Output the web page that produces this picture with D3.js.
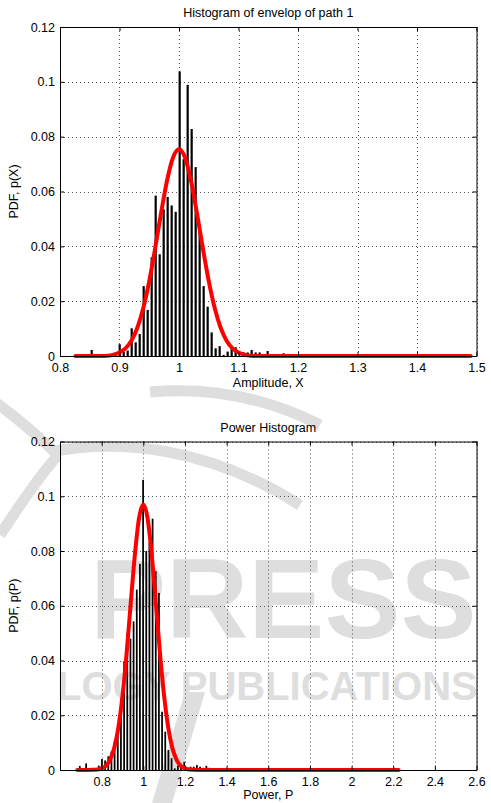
<!DOCTYPE html>
<html>
<meta charset="utf-8">
<script src="https://d3js.org/d3.v7.min.js"></script>
<style>
  body { margin: 0; background: #fff; }
  text { font-family: "Liberation Sans", Arial, Helvetica, sans-serif; }
</style>
<body>
<div id="chart"></div>
<script>
// ---------- data ----------
var pdfTicks = [0, 0.02, 0.04, 0.06, 0.08, 0.1, 0.12];
var ampTicks = [0.8, 0.9, 1, 1.1, 1.2, 1.3, 1.4, 1.5];
var powTicks = [0.8, 1, 1.2, 1.4, 1.6, 1.8, 2, 2.2, 2.4, 2.6];

// histogram of the envelope (amplitude), bin centres start at ampBinStart
var ampBinStart = 0.8264, ampBinWidth = 0.00672;
var ampHist = [0, 0.0003, 0, 0, 0.0022, 0, 0, 0, 0, 0,
               0.0007, 0.0043, 0.0015, 0.002, 0.0101, 0.005, 0.008, 0.0255, 0.0168, 0.036,
               0.0585, 0.0371, 0.0535, 0.058, 0.0549, 0.0526, 0.1038, 0.0718, 0.0989, 0.0828,
               0.0689, 0.0472, 0.0255, 0.018, 0.0086, 0.0028, 0.0036, 0.0004, 0.0016, 0.0032,
               0.0032, 0, 0.0013, 0.0013, 0.0022, 0.0013, 0.0013, 0, 0.0018, 0,
               0, 0, 0.001];
// fitted pdf (red), [x, p]
var ampFit = [[0.826, 0], [0.87, 0], [0.88, 0.0001], [0.89, 0.0005], [0.90, 0.0013], [0.91, 0.0028],
              [0.92, 0.0056], [0.93, 0.0103], [0.94, 0.0175], [0.95, 0.0273], [0.96, 0.0394],
              [0.97, 0.0523], [0.98, 0.0641], [0.99, 0.0724], [1.00, 0.0754], [1.01, 0.0724],
              [1.02, 0.0641], [1.03, 0.0523], [1.04, 0.0394], [1.05, 0.0273], [1.06, 0.0175],
              [1.07, 0.0103], [1.08, 0.0056], [1.09, 0.0028], [1.10, 0.0013], [1.11, 0.0005],
              [1.12, 0.0001], [1.13, 0], [1.49, 0]];

// histogram of the power
var powBinStart = 0.695, powBinWidth = 0.0152;
var powHist = [0.0015, 0, 0.0024, 0, 0, 0, 0.0016, 0.004, 0.0035, 0.005,
               0.0068, 0.0105, 0.015, 0.0259, 0.0397, 0.05, 0.048, 0.0543, 0.0659, 0.0753,
               0.106, 0.08, 0.083, 0.0918, 0.0726, 0.0647, 0.0213, 0.014, 0.0073, 0.0043,
               0.0006, 0.0016, 0.0018, 0.003, 0, 0.0012, 0.0012, 0.0018, 0.0012, 0.0008,
               0.0015, 0.0008, 0, 0, 0.0005];
var powFit = [[0.683, 0], [0.74, 0], [0.76, 0.0001], [0.78, 0.0002], [0.80, 0.0006], [0.82, 0.0015],
              [0.84, 0.0037], [0.86, 0.0079], [0.88, 0.0154], [0.90, 0.027], [0.92, 0.0428],
              [0.94, 0.0612], [0.96, 0.079], [0.98, 0.0922], [1.00, 0.097], [1.02, 0.0922],
              [1.04, 0.079], [1.06, 0.0612], [1.08, 0.0428], [1.10, 0.027], [1.12, 0.0154],
              [1.14, 0.0079], [1.16, 0.0037], [1.18, 0.0015], [1.20, 0.0006], [1.22, 0.0002],
              [1.24, 0.0001], [1.26, 0], [2.226, 0]];

// ---------- drawing ----------
var W = 491, H = 803;
var svg = d3.select("#chart").append("svg")
    .attr("width", W).attr("height", H);

// faint publisher watermark behind the plots
var wmColor = "#dedede";
var wm = svg.append("g").attr("fill", "none").attr("stroke", wmColor).attr("stroke-width", 11);
wm.append("path").attr("d", "M -5,402 C 20,420 40,438 58,455");
wm.append("path").attr("d", "M 0,535 C 20,505 38,478 58,455");
wm.append("path").attr("d", "M 50,452 C 120,438 210,448 300,505");
wm.append("path").attr("d", "M 150,392 Q 240,384 320,425");
svg.append("path").attr("d", "M 185,692 L 205,692 L 172,803 L 152,803 Z").attr("fill", wmColor);
svg.append("text").attr("x", 90).attr("y", 638)
    .attr("font-size", 114).attr("font-weight", "bold").attr("fill", wmColor)
    .text("PRESS");
svg.append("text").attr("x", 57).attr("y", 700)
    .attr("font-size", 40).attr("font-weight", "bold").attr("fill", wmColor)
    .text("LOGY PUBLICATIONS");

var L = 60, R = 476.5;

function drawPanel(cfg) {
    var g = svg.append("g");
    var x = d3.scaleLinear().domain(cfg.xDomain).range([L, R]);
    var y = d3.scaleLinear().domain([0, 0.12]).range([cfg.bottom, cfg.top]);

    // dotted grid
    g.selectAll(".gx").data(cfg.xTicks).enter().append("line")
        .attr("x1", d => Math.round(x(d)) + 0.5).attr("x2", d => Math.round(x(d)) + 0.5)
        .attr("y1", cfg.top).attr("y2", cfg.bottom)
        .attr("stroke", "#555").attr("stroke-dasharray", "1,3");
    g.selectAll(".gy").data(pdfTicks).enter().append("line")
        .attr("y1", d => Math.round(y(d)) + 0.5).attr("y2", d => Math.round(y(d)) + 0.5)
        .attr("x1", L).attr("x2", R)
        .attr("stroke", "#555").attr("stroke-dasharray", "1,3");

    // histogram bars
    var bw = (x(cfg.binStart + cfg.binWidth) - x(cfg.binStart)) * 0.55;
    g.selectAll("rect.bar").data(cfg.hist).enter().append("rect")
        .attr("class", "bar")
        .attr("x", (d, i) => x(cfg.binStart + i * cfg.binWidth) - bw / 2)
        .attr("y", d => y(d))
        .attr("width", bw)
        .attr("height", d => y(0) - y(d))
        .attr("fill", "#000");

    // fitted pdf
    var line = d3.line()
        .x(d => x(d[0]))
        .y(d => y(d[1]))
        .curve(d3.curveMonotoneX);
    g.append("path").datum(cfg.fit)
        .attr("d", line)
        .attr("fill", "none")
        .attr("stroke", "#ff0000")
        .attr("stroke-width", 4)
        .attr("stroke-linejoin", "round")
        .attr("stroke-linecap", "round");

    // axes with inward ticks on all four sides
    var fmt = d3.format("~g");
    var ax = [
        g.append("g").attr("transform", "translate(0," + cfg.bottom + ")")
            .call(d3.axisBottom(x).tickValues(cfg.xTicks).tickSizeInner(-4).tickSizeOuter(0).tickPadding(7).tickFormat(fmt)),
        g.append("g").attr("transform", "translate(0," + cfg.top + ")")
            .call(d3.axisTop(x).tickValues(cfg.xTicks).tickSizeInner(-4).tickSizeOuter(0).tickFormat("")),
        g.append("g").attr("transform", "translate(" + L + ",0)")
            .call(d3.axisLeft(y).tickValues(pdfTicks).tickSizeInner(-4).tickSizeOuter(0).tickPadding(5).tickFormat(fmt)),
        g.append("g").attr("transform", "translate(" + R + ",0)")
            .call(d3.axisRight(y).tickValues(pdfTicks).tickSizeInner(-4).tickSizeOuter(0).tickFormat(""))
    ];
    ax.forEach(function (a) {
        a.attr("font-family", null).attr("font-size", null);
        a.selectAll("text").attr("font-size", 12.5).attr("fill", "#000");
        a.selectAll("path, line").attr("stroke", "#000");
    });

    // titles and labels
    g.append("text").attr("x", (L + R) / 2).attr("y", cfg.titleY)
        .attr("text-anchor", "middle").attr("font-size", 12.5).text(cfg.title);
    g.append("text").attr("x", (L + R) / 2).attr("y", cfg.xLabelY)
        .attr("text-anchor", "middle").attr("font-size", 12.5).text(cfg.xLabel);
    g.append("text")
        .attr("transform", "translate(18," + (cfg.top + cfg.bottom) / 2 + ") rotate(-90)")
        .attr("text-anchor", "middle").attr("font-size", 12.5).text(cfg.yLabel);
}

drawPanel({
    xDomain: [0.8, 1.5], xTicks: ampTicks, top: 27, bottom: 356,
    binStart: ampBinStart, binWidth: ampBinWidth, hist: ampHist, fit: ampFit,
    title: "Histogram of envelop of path 1", titleY: 17,
    xLabel: "Amplitude, X", xLabelY: 387, yLabel: "PDF, p(X)"
});
drawPanel({
    xDomain: [0.6, 2.6], xTicks: powTicks, top: 441.5, bottom: 770,
    binStart: powBinStart, binWidth: powBinWidth, hist: powHist, fit: powFit,
    title: "Power Histogram", titleY: 432,
    xLabel: "Power, P", xLabelY: 799, yLabel: "PDF, p(P)"
});
</script>
</body>
</html>
